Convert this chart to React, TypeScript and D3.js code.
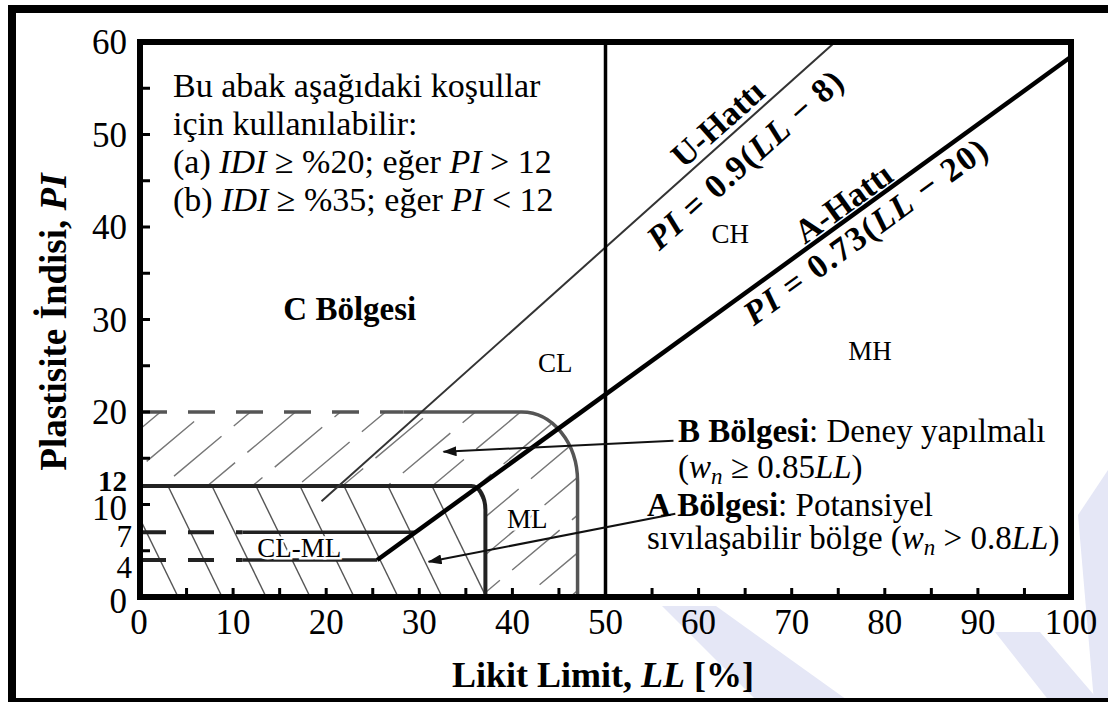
import React from "react";
import * as d3 from "d3";

// chart data (LL = liquid limit %, PI = plasticity index)
const llTickLabels = [0, 10, 20, 30, 40, 50, 60, 70, 80, 90, 100];
const piTickLabels = [0, 4, 7, 10, 12, 20, 30, 40, 50, 60];
const piBoldLabels = [12];
const minorTicksLL = [5, 10, 15, 20, 25, 30, 35, 40, 45, 50, 55, 60, 65, 70, 75, 80, 85, 90, 95];
const minorTicksPI = [5, 10, 15, 20, 25, 30, 35, 40, 45, 50, 55];

const uLine = { slope: 0.9, offset: 8, startLL: 19.5 };
const aLine = { slope: 0.73, offset: 20, startPI: 4 };
const limitLL = 50;

// A and B zones (upper edge, right edge, rounded corner)
const zoneA = { top: 12, right: 37.1, cornerLL: 35.6, cornerPI: 9.4, dashTo: 0 };
const zoneB = { top: 20, right: 47, cornerLL: 41, cornerPI: 12.5, dashTo: 28.3 };
// CL-ML shelves, ending on the A-line
const shelves = [
  { pi: 7, dashTo: 11 },
  { pi: 4, dashTo: 11 },
];

const regionLabels = [
  { text: "CH", ll: 63.4, pi: 38.3 },
  { text: "MH", ll: 78.4, pi: 25.6 },
  { text: "CL", ll: 44.6, pi: 24.3 },
  { text: "ML", ll: 41.6, pi: 7.5 },
  { text: "CL-ML", ll: 17.1, pi: 4.3 },
];

const arrows = [
  { from: [57.3, 16.9], to: [32.6, 15.7] },
  { from: [57.5, 9.0], to: [31.0, 3.8] },
];

const noteLines = [
  "Bu abak aşağıdaki koşullar",
  "için kullanılabilir:",
];

const FONT = "'Liberation Serif', 'Times New Roman', serif";

export default function App() {
  const x = d3.scaleLinear().domain([0, 100]).range([140, 1071]);
  const y = d3.scaleLinear().domain([0, 60]).range([597, 42]);
  const line = d3
    .line<[number, number]>()
    .x((d) => x(d[0]))
    .y((d) => y(d[1]));

  const zoneShape = (z) => {
    const rx = x(z.right) - x(z.cornerLL);
    const ry = y(z.cornerPI) - y(z.top);
    return (
      `M${x(0)},${y(z.top)}L${x(z.cornerLL)},${y(z.top)}` +
      `A${rx},${ry} 0 0 1 ${x(z.right)},${y(z.cornerPI)}` +
      `L${x(z.right)},${y(0)}L${x(0)},${y(0)}Z`
    );
  };
  const zoneEdge = (z) => {
    const rx = x(z.right) - x(z.cornerLL);
    const ry = y(z.cornerPI) - y(z.top);
    return (
      `M${x(z.dashTo)},${y(z.top)}L${x(z.cornerLL)},${y(z.top)}` +
      `A${rx},${ry} 0 0 1 ${x(z.right)},${y(z.cornerPI)}` +
      `L${x(z.right)},${y(0)}`
    );
  };

  const uPI = (ll) => uLine.slope * (ll - uLine.offset);
  const aPI = (ll) => aLine.slope * (ll - aLine.offset);
  const aLL = (pi) => pi / aLine.slope + aLine.offset;
  const uEnd = 60 / uLine.slope + uLine.offset;

  const angleOf = (slope) =>
    (Math.atan((slope * (y(0) - y(1))) / (x(1) - x(0))) * 180) / Math.PI;

  // hatching
  const hb = d3.range(x(0) - 200, x(55), 45).map((x0) => {
    const h = y(0) - y(zoneB.top);
    const dx = h / Math.tan((40 * Math.PI) / 180);
    return [x0, y(0), x0 + dx, y(zoneB.top)];
  });
  const ha = d3.range(x(0) - 60, x(45), 44).map((x0) => {
    const h = y(0) - y(zoneA.top);
    const dx = h / Math.tan((64 * Math.PI) / 180);
    return [x0, y(zoneA.top), x0 + dx, y(0)];
  });

  const lineLabel = (ln, ll, off, children, extra = {}) => {
    const pi = ln.slope * (ll - ln.offset);
    return (
      <g transform={`translate(${x(ll)},${y(pi)}) rotate(${-angleOf(ln.slope)})`}>
        <text
          x={0}
          y={off}
          textAnchor="middle"
          dominantBaseline="central"
          fontWeight="bold"
          fontSize={34}
          {...extra}
        >
          {children}
        </text>
      </g>
    );
  };

  const dark = "#111";

  return (
    <div style={{ position: "absolute", left: 0, top: 0 }}>
      <svg width={1108} height={702} style={{ display: "block", background: "#fff" }} fontFamily={FONT}>
        <defs>
          <clipPath id="clipB">
            <path d={zoneShape(zoneB) + zoneShape(zoneA)} clipRule="evenodd" />
          </clipPath>
          <clipPath id="clipA">
            <path d={zoneShape(zoneA)} />
          </clipPath>
          <marker id="ah" markerWidth={14} markerHeight={10} refX={13} refY={5} orient="auto" markerUnits="userSpaceOnUse">
            <path d="M0,0L14,5L0,10Z" fill={dark} />
          </marker>
        </defs>

        {/* faint watermark bands */}
        <g fill="#e5e7f6">
          <polygon points="662,606 716,606 850,702 758,702" />
          <polygon points="995,632 1040,632 1100,702 1050,702" />
          <polygon points="1078,515 1108,470 1108,702 1094,702" />
        </g>

        {/* outer frame */}
        <rect x={12} y={9} width={1100} height={693} fill="none" stroke="#000" strokeWidth={8} />

        {/* hatching */}
        <g clipPath="url(#clipB)" stroke="#777" strokeWidth={1.4}>
          {hb.map((d, i) => (
            <line key={i} x1={d[0]} y1={d[1]} x2={d[2]} y2={d[3]} strokeDasharray="62 16" strokeDashoffset={(i * 23) % 60} />
          ))}
        </g>
        <g clipPath="url(#clipA)" stroke="#555" strokeWidth={1.4}>
          {ha.map((d, i) => (
            <line key={i} x1={d[0]} y1={d[1]} x2={d[2]} y2={d[3]} />
          ))}
        </g>

        {/* zone outlines */}
        <path d={zoneEdge(zoneB)} fill="none" stroke="#555" strokeWidth={3.5} />
        <path d={line([[0, zoneB.top], [zoneB.dashTo, zoneB.top]])} fill="none" stroke="#555" strokeWidth={3.5} strokeDasharray="27 21" />
        <path d={zoneEdge(zoneA)} fill="none" stroke="#222" strokeWidth={4} />
        {shelves.map((s) => (
          <g key={s.pi}>
            <path d={line([[0, s.pi], [s.dashTo, s.pi]])} fill="none" stroke="#222" strokeWidth={4} strokeDasharray="26 22" />
            <path d={line([[s.dashTo, s.pi], [aLL(s.pi), s.pi]])} fill="none" stroke="#222" strokeWidth={3.5} />
          </g>
        ))}

        {/* U-line, A-line, LL=50 */}
        <path d={line([[uLine.startLL, uPI(uLine.startLL)], [uEnd, 60]])} fill="none" stroke="#333" strokeWidth={2} />
        <path d={line([[aLL(aLine.startPI), aLine.startPI], [100, aPI(100)]])} fill="none" stroke="#000" strokeWidth={4.5} />
        <path d={line([[limitLL, 0], [limitLL, 60]])} fill="none" stroke="#000" strokeWidth={3.5} />

        {/* ticks */}
        <g stroke="#000" strokeWidth={3}>
          {minorTicksLL.map((t) => (
            <line key={t} x1={x(t)} x2={x(t)} y1={y(0)} y2={y(0) - 9} />
          ))}
          {minorTicksPI.map((t) => (
            <line key={t} x1={x(0)} x2={x(0) + 10} y1={y(t)} y2={y(t)} />
          ))}
        </g>

        {/* plot frame */}
        <rect x={x(0)} y={y(60)} width={x(100) - x(0)} height={y(0) - y(60)} fill="none" stroke="#000" strokeWidth={6} />

        {/* tick labels */}
        <g fontSize={35} fill="#000">
          {llTickLabels.map((t) => (
            <text key={t} x={x(t) - (t === 0 ? 1 : 0)} y={y(0) + 37} textAnchor="middle">
              {t}
            </text>
          ))}
          {piTickLabels.map((t) => {
            const nudge = { 0: 16, 4: 18, 7: 15, 10: 15, 12: 5, 20: 12 }[t] ?? 12;
            const small = t === 4 || t === 7;
            return (
              <text
                key={t}
                x={small ? 132 : 127}
                y={y(t) + nudge}
                textAnchor="end"
                fontWeight={piBoldLabels.includes(t) ? "bold" : "normal"}
                fontSize={t === 12 ? 29 : small ? 31 : 35}
              >
                {t}
              </text>
            );
          })}
        </g>

        {/* axis titles */}
        <text x={603} y={687} textAnchor="middle" fontWeight="bold" fontSize={36}>
          Likit Limit, <tspan fontStyle="italic">LL</tspan> [%]
        </text>
        <text
          transform={`translate(66,322) rotate(-90)`}
          textAnchor="middle"
          fontWeight="bold"
          fontSize={37}
        >
          Plastisite İndisi, <tspan fontStyle="italic">PI</tspan>
        </text>

        {/* note block */}
        <g fontSize={34}>
          {noteLines.map((t, i) => (
            <text key={i} x={173} y={97 + i * 38}>
              {t}
            </text>
          ))}
          <text x={173} y={173}>
            (a) <tspan fontStyle="italic">IDI</tspan> ≥ %20; eğer <tspan fontStyle="italic">PI</tspan> &gt; 12
          </text>
          <text x={173} y={211}>
            (b) <tspan fontStyle="italic">IDI</tspan> ≥ %35; eğer <tspan fontStyle="italic">PI</tspan> &lt; 12
          </text>
        </g>

        <text x={x(15.4)} y={y(29.9)} fontWeight="bold" fontSize={33}>
          C Bölgesi
        </text>

        {/* region labels */}
        <g fontSize={27}>
          {regionLabels.map((r) => (
            <text
              key={r.text}
              x={x(r.ll)}
              y={y(r.pi)}
              textAnchor="middle"
              stroke="#fff"
              strokeWidth={5}
              paintOrder="stroke"
            >
              {r.text}
            </text>
          ))}
        </g>

        {/* line labels */}
        {lineLabel(uLine, 63.3, -17.5, "U-Hattı")}
        {lineLabel(uLine, 63, 27, [
          <tspan key="a" fontStyle="italic">PI</tspan>,
          <tspan key="b"> = 0.9(</tspan>,
          <tspan key="c" fontStyle="italic">LL</tspan>,
          <tspan key="d"> − 8)</tspan>,
        ], { textLength: 250, lengthAdjust: "spacing" })}
        {lineLabel(aLine, 76.5, -15.4, "A-Hattı")}
        {lineLabel(aLine, 76.6, 20, [
          <tspan key="a" fontStyle="italic">PI</tspan>,
          <tspan key="b"> = 0.73(</tspan>,
          <tspan key="c" fontStyle="italic">LL</tspan>,
          <tspan key="d"> − 20)</tspan>,
        ], { textLength: 292, lengthAdjust: "spacing" })}

        {/* arrows */}
        {arrows.map((a, i) => (
          <line
            key={i}
            x1={x(a.from[0])}
            y1={y(a.from[1])}
            x2={x(a.to[0])}
            y2={y(a.to[1])}
            stroke={dark}
            strokeWidth={2}
            markerEnd="url(#ah)"
          />
        ))}

        {/* zone annotations */}
        <g fontSize={33}>
          <text x={678} y={442}>
            <tspan fontWeight="bold">B Bölgesi</tspan>: Deney yapılmalı
          </text>
          <text x={678} y={478}>
            (<tspan fontStyle="italic">w</tspan>
            <tspan fontStyle="italic" fontSize={23} dy={6}>n</tspan>
            <tspan dy={-6}> ≥ 0.85</tspan>
            <tspan fontStyle="italic">LL</tspan>)
          </text>
          <text x={647} y={516}>
            <tspan fontWeight="bold">A Bölgesi</tspan>: Potansiyel
          </text>
          <text x={647} y={549}>
            sıvılaşabilir bölge (<tspan fontStyle="italic">w</tspan>
            <tspan fontStyle="italic" fontSize={23} dy={6}>n</tspan>
            <tspan dy={-6}> &gt; 0.8</tspan>
            <tspan fontStyle="italic">LL</tspan>)
          </text>
        </g>
      </svg>
    </div>
  );
}
